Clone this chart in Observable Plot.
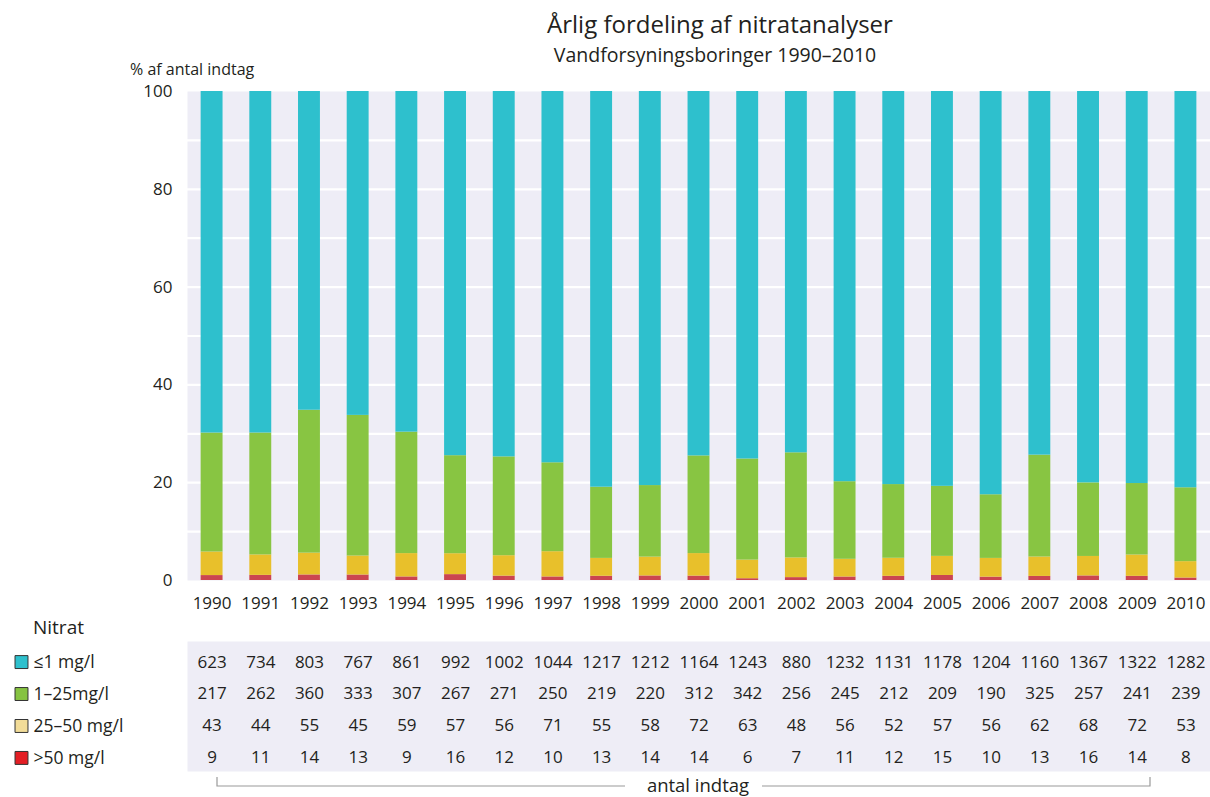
<!DOCTYPE html>
<html>
<head>
<meta charset="utf-8">
<script src="https://cdn.jsdelivr.net/npm/d3@7"></script>
<script src="https://cdn.jsdelivr.net/npm/@observablehq/plot@0.6"></script>
<style>
  html, body { margin: 0; padding: 0; background: #fff; }
  #wrap { position: relative; width: 1210px; height: 797px; overflow: hidden; font-family: "Open Sans", sans-serif; color: #231f20; }
  .abs { position: absolute; white-space: nowrap; }
  #wrap svg { position: absolute; left: 0; }
</style>
</head>
<body>
<div id="wrap">
  <div class="abs" id="title" style="left:470px; width:500px; top:7px; text-align:center; font-size:24px;">Årlig fordeling af nitratanalyser</div>
  <div class="abs" id="subtitle" style="left:465px; width:500px; top:41px; text-align:center; font-size:19.5px;">Vandforsyningsboringer 1990–2010</div>
  <div class="abs" id="ylabel" style="left:130px; top:58px; font-size:16px;">% af antal indtag</div>
  <div class="abs" id="legendTitle" style="left:33px; top:614px; font-size:19px;">Nitrat</div>
  <svg id="bracket" width="1210" height="30" style="top:767px;">
    <path d="M217,10 V19 H625 M762,19 H1150 V10" fill="none" stroke="#9a9a9a" stroke-width="1.2"/>
    <text x="698" y="24.5" text-anchor="middle" font-size="18.5" fill="#231f20" font-family="Open Sans">antal indtag</text>
  </svg>
</div>
<script>
// ---- data ----
const years = ["1990","1991","1992","1993","1994","1995","1996","1997","1998","1999","2000",
               "2001","2002","2003","2004","2005","2006","2007","2008","2009","2010"];
const categories = ["≤1 mg/l", "1–25mg/l", "25–50 mg/l", ">50 mg/l"];
const countLe1   = [623, 734, 803, 767, 861, 992, 1002, 1044, 1217, 1212, 1164, 1243, 880, 1232, 1131, 1178, 1204, 1160, 1367, 1322, 1282];
const count1to25 = [217, 262, 360, 333, 307, 267, 271, 250, 219, 220, 312, 342, 256, 245, 212, 209, 190, 325, 257, 241, 239];
const count25to50= [43, 44, 55, 45, 59, 57, 56, 71, 55, 58, 72, 63, 48, 56, 52, 57, 56, 62, 68, 72, 53];
const countGt50  = [9, 11, 14, 13, 9, 16, 12, 10, 13, 14, 14, 6, 7, 11, 12, 15, 10, 13, 16, 14, 8];
const barColors    = ["#2ec0cd", "#88c542", "#e8c02b", "#cb4550"];
const legendColors = ["#2ec0cd", "#86c341", "#f2dc98", "#e31e24"];
const yTicks = [0, 20, 40, 60, 80, 100];

// ---- derived tables ----
const seriesCounts = [countLe1, count1to25, count25to50, countGt50];
const tableRows = [];
categories.forEach((c, ci) => years.forEach((y, yi) => tableRows.push({year: y, cat: c, count: seriesCounts[ci][yi]})));
// bars stacked bottom-up: >50, 25–50, 1–25, ≤1
const barRows = [];
years.forEach((y, yi) => {
  const total = d3.sum(seriesCounts, s => s[yi]);
  [3, 2, 1, 0].forEach(ci => barRows.push({year: y, cat: categories[ci], pct: seriesCounts[ci][yi] / total * 100}));
});
const legendRows = categories.map((c, i) => ({cat: c, color: legendColors[i]}));

const font = {fontFamily: "Open Sans, sans-serif", fontSize: "17px", color: "#231f20", background: "transparent", overflow: "visible"};
const xBand = {type: "band", domain: years, paddingInner: 0.55, paddingOuter: 0.28, round: false};

const chart = Plot.plot({
  width: 1210, height: 625,
  marginTop: 91, marginBottom: 45, marginLeft: 187, marginRight: 0,
  style: font,
  x: {...xBand, label: null},
  y: {domain: [0, 100], label: null},
  color: {domain: categories, range: barColors},
  marks: [
    Plot.frame({fill: "#eeedf6", stroke: "none"}),
    Plot.ruleX([0], {frameAnchor: "left", stroke: "#dcdbe4"}),
    Plot.gridY(d3.range(10, 100, 10), {stroke: "#ffffff", strokeWidth: 2.2, strokeOpacity: 1}),
    Plot.barY(barRows, {x: "year", y: "pct", fill: "cat"}),
    Plot.axisX({tickSize: 0, tickPadding: 16, label: null}),
    Plot.axisY({ticks: yTicks, tickSize: 0, tickPadding: 15, label: null})
  ]
});
chart.style.top = "0px";
document.getElementById("wrap").appendChild(chart);

const table = Plot.plot({
  width: 1210, height: 134,
  marginTop: 3, marginBottom: 0, marginLeft: 187, marginRight: 0,
  style: font,
  x: {...xBand, axis: null},
  y: {type: "band", domain: categories, axis: null, round: false},
  marks: [
    Plot.frame({fill: "#eeedf6", stroke: "none", insetTop: -3, insetBottom: 4}),
    Plot.text(tableRows, {x: "year", y: "cat", text: d => String(d.count), fontSize: 17, fill: "#231f20"}),
    Plot.dot(legendRows, {y: "cat", frameAnchor: "left", dx: -166, symbol: "square", r: 7.3, fill: "color", stroke: "#333", strokeWidth: 1}),
    Plot.text(legendRows, {y: "cat", text: "cat", frameAnchor: "left", dx: -154, textAnchor: "start", fontSize: 17.5, fill: "#231f20"})
  ]
});
table.style.top = "641px";
document.getElementById("wrap").appendChild(table);
</script>
</body>
</html>
